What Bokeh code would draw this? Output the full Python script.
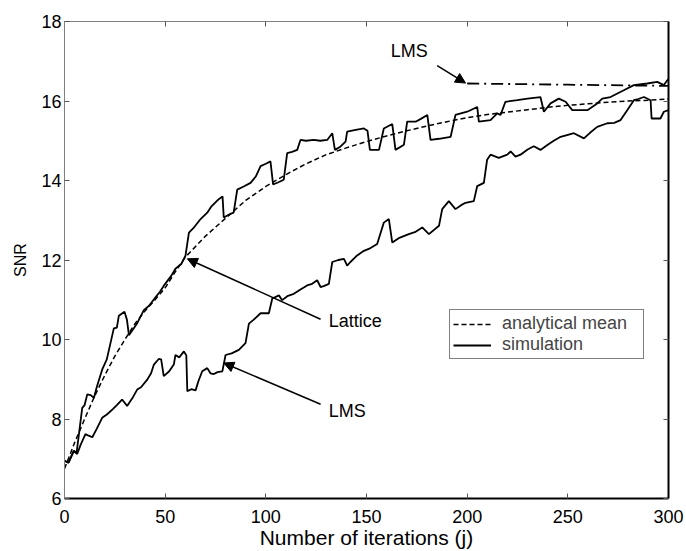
from bokeh.plotting import figure
from bokeh.models import (Range1d, FixedTicker, LinearAxis, CustomJSTickFormatter,
                          Legend, LegendItem, Arrow, NormalHead, Label)
from bokeh.embed import file_html
from bokeh.resources import INLINE

# ---------------- data ----------------
x_ticks = [0, 50, 100, 150, 200, 250, 300]
y_ticks = [6, 8, 10, 12, 14, 16, 18]

lattice_mean_x = [0, 5, 10, 15, 20, 25, 30, 35, 40, 45, 50, 55, 60, 70, 80, 90, 100, 110, 120,
                  130, 140, 150, 160, 170, 180, 190, 200, 210, 220, 230, 240, 250, 260, 270,
                  280, 290, 300]
lattice_mean_y = [6.75, 7.4, 8.0, 8.58, 9.1, 9.58, 10.0, 10.4, 10.72, 11.0, 11.3, 11.7, 12.07,
                  12.6, 13.05, 13.5, 13.85, 14.15, 14.42, 14.65, 14.82, 14.98, 15.12, 15.25,
                  15.37, 15.48, 15.58, 15.66, 15.72, 15.78, 15.84, 15.89, 15.93, 15.97, 16.0,
                  16.02, 16.05]

lms_mean_x = [200, 250, 300]
lms_mean_y = [16.44, 16.41, 16.38]

lattice_sim_x = [0, 2, 4.6, 6, 8.8, 10, 11.3, 13, 14.6, 16, 18.7, 21, 24.5, 26, 27, 29.8, 31, 32,
                 34, 36, 39.4, 42, 45, 47.4, 50, 53, 55.1, 58, 60.1, 61.8, 64, 67.6, 70.9, 73,
                 76.6, 78.5, 79.1, 82, 84, 85.8, 89, 92.4, 95, 97.4, 100, 102.3, 103.6, 106,
                 108.9, 110.6, 113, 115.6, 117.2, 120, 123.8, 127, 130.5, 133, 134.3, 137,
                 139.6, 140.4, 144, 148.7, 150.5, 151.7, 156.2, 158.6, 162.8, 164.4, 168.6,
                 170.2, 174.4, 177, 180.2, 181.8, 186, 191.8, 194.2, 200, 205, 205.8, 211.6,
                 214.9, 216.6, 219, 224.9, 230, 236.4, 238.1, 241.4, 245.5, 248.9, 252.2,
                 259.7, 264.6, 267.1, 271.2, 277.8, 282.8, 289.4, 294.4, 297.7, 299.4, 300]
lattice_sim_y = [6.95, 6.9, 7.2, 7.15, 8.28, 8.35, 8.62, 8.6, 8.53, 8.8, 9.24, 9.5, 10.28, 10.3,
                 10.6, 10.7, 10.5, 10.11, 10.25, 10.4, 10.74, 10.85, 11.05, 11.2, 11.4, 11.6,
                 11.78, 11.9, 12.11, 12.69, 12.8, 13.03, 13.19, 13.35, 13.53, 13.6, 13.07,
                 13.15, 13.19, 13.77, 13.85, 13.94, 14.1, 14.36, 14.42, 14.48, 13.9, 13.95,
                 14.02, 14.69, 14.72, 14.77, 15.02, 15.0, 15.02, 15.0, 15.02, 15.19, 14.77,
                 14.85, 14.98, 15.23, 15.27, 15.31, 15.25, 14.77, 14.77, 15.31, 15.42, 14.77,
                 14.9, 15.48, 15.48, 15.55, 15.65, 15.02, 15.05, 15.1, 15.65, 15.73, 15.85,
                 15.48, 15.52, 15.69, 15.65, 15.98, 16.02, 16.06, 16.1, 15.73, 15.94, 16.06,
                 15.98, 15.77, 15.77, 15.94, 16.06, 16.1, 16.27, 16.4, 16.44, 16.48, 16.4,
                 16.52, 16.55]

lms_sim_x = [0, 2, 4.6, 6.3, 8, 10.4, 12, 13.8, 16, 18.7, 21.2, 24, 26, 28.6, 31.1, 34, 36.1, 38,
             41.1, 43, 44.4, 46.8, 48, 49.3, 52, 54.3, 55.1, 57, 59.3, 60.5, 61, 63, 65.1, 66.5,
             68.4, 70.9, 72.5, 74.2, 76, 78.4, 80, 83, 86.6, 89.9, 91.6, 94, 97.4, 101.5, 103.2,
             106.5, 108.1, 111, 113.9, 117, 120.5, 123, 125.5, 127.2, 129, 131.3, 133, 136,
             138.8, 140.4, 142, 145, 148.7, 152, 155.3, 158.6, 161.1, 162.8, 166, 171, 174,
             177.7, 181, 186, 187.6, 190.9, 194.2, 197, 199.2, 203.3, 205, 208.3, 209.9, 211.6,
             215.7, 219.9, 221.6, 224, 226.5, 230, 233.1, 236.4, 240, 243, 246.4, 250, 253, 258,
             261, 264.6, 269.6, 273, 276.2, 279.5, 282.8, 285, 287.8, 291.1, 291.6, 296, 297.7,
             300]
lms_sim_y = [6.95, 6.9, 7.2, 7.12, 7.35, 7.62, 7.58, 7.54, 7.75, 8.03, 8.12, 8.25, 8.35, 8.49,
             8.33, 8.55, 8.74, 8.8, 8.99, 9.15, 9.37, 9.51, 9.5, 9.08, 9.2, 9.37, 9.61, 9.55,
             9.7, 9.6, 8.7, 8.75, 8.72, 8.95, 9.2, 9.28, 9.15, 9.13, 9.18, 9.2, 9.61, 9.65, 9.74,
             9.91, 10.4, 10.5, 10.66, 10.66, 11.03, 11.11, 10.99, 11.1, 11.15, 11.25, 11.36,
             11.4, 11.49, 11.32, 11.35, 11.4, 11.95, 12.0, 12.03, 11.86, 11.95, 12.1, 12.23,
             12.3, 12.4, 12.94, 13.03, 12.44, 12.55, 12.65, 12.7, 12.82, 12.65, 12.86, 13.28,
             13.48, 13.28, 13.38, 13.44, 13.48, 13.86, 13.94, 14.52, 14.65, 14.57, 14.65,
             14.73, 14.6, 14.65, 14.78, 14.86, 14.77, 14.9, 15.0, 15.1, 15.15, 15.19, 15.06,
             15.2, 15.35, 15.44, 15.45, 15.52, 15.77, 16.02, 16.05, 16.1, 16.02, 15.56, 15.56,
             15.73, 15.77]

# annotation anchors (data units)
ann_lms_top = dict(text="LMS", x=162, y=17.27, ax0=185.1, ay0=16.89, ax1=199.2, ay1=16.45)
ann_lattice = dict(text="Lattice", x=131.3, y=10.46, ax0=127.2, ay0=10.51, ax1=61.0, ay1=12.03)
ann_lms_low = dict(text="LMS", x=131.3, y=8.21, ax0=127.2, ay0=8.37, ax1=79.1, ay1=9.41)

FONT = "Liberation Sans"
FS = "18px"

p = figure(width=686, height=551, x_range=Range1d(0, 300), y_range=Range1d(6, 18),
           output_backend="svg", toolbar_location=None,
           min_border_left=64, min_border_right=18, min_border_top=21, min_border_bottom=49,
           x_axis_label="Number of iterations (j)", y_axis_label="SNR")
p.background_fill_color = "white"
p.border_fill_color = "white"
p.outline_line_color = None
p.grid.visible = False

p.xaxis.ticker = FixedTicker(ticks=x_ticks)
p.yaxis.ticker = FixedTicker(ticks=y_ticks)
for ax in (p.xaxis[0], p.yaxis[0]):
    ax.major_tick_in = 5
    ax.major_tick_out = 0
    ax.minor_tick_line_color = None
    ax.major_label_text_font = FONT
    ax.major_label_text_font_size = FS
    ax.major_label_text_color = "black"
    ax.axis_label_text_font = FONT
    ax.axis_label_text_font_style = "normal"
    ax.axis_label_text_color = "black"
    ax.major_tick_line_color = "#555555"
p.xaxis.axis_label_text_font_size = "21px"
p.yaxis.axis_label_text_font_size = "16px"
p.xaxis.axis_line_color = "black"
p.xaxis.axis_line_width = 2
p.yaxis.axis_line_color = "#808080"
p.yaxis.axis_line_width = 1
p.xaxis.major_label_standoff = 11
p.yaxis.major_label_standoff = 3
p.xaxis.axis_label_standoff = 0
p.yaxis.axis_label_standoff = 9

blank = CustomJSTickFormatter(code="return ''")
top_ax = LinearAxis(ticker=FixedTicker(ticks=x_ticks), formatter=blank,
                    major_tick_in=5, major_tick_out=0, minor_tick_line_color=None,
                    axis_line_color="#808080", major_tick_line_color="#555555",
                    major_label_standoff=0)
right_ax = LinearAxis(ticker=FixedTicker(ticks=y_ticks), formatter=blank,
                      major_tick_in=5, major_tick_out=0, minor_tick_line_color=None,
                      axis_line_color="black", axis_line_width=2,
                      major_tick_line_color="#555555", major_label_standoff=0)
p.add_layout(top_ax, "above")
p.add_layout(right_ax, "right")

r_mean = p.line(lattice_mean_x, lattice_mean_y, line_color="black", line_width=1.5,
                line_dash="5 3")
p.line(lms_mean_x, lms_mean_y, line_color="black", line_width=1.8, line_dash="12 5 2 5")
r_sim = p.line(lattice_sim_x, lattice_sim_y, line_color="black", line_width=1.8)
p.line(lms_sim_x, lms_sim_y, line_color="black", line_width=1.8)

for a in (ann_lms_top, ann_lattice, ann_lms_low):
    p.add_layout(Label(x=a["x"], y=a["y"], text=a["text"], text_font=FONT,
                       text_font_size=FS, text_baseline="middle", text_align="left",
                       text_color="black"))
    p.add_layout(Arrow(x_start=a["ax0"], y_start=a["ay0"], x_end=a["ax1"], y_end=a["ay1"],
                       line_width=1.5, line_color="black",
                       end=NormalHead(size=10, fill_color="black", line_color="black")))

legend = Legend(items=[LegendItem(label="analytical mean", renderers=[r_mean]),
                       LegendItem(label="simulation", renderers=[r_sim])],
                location=(385, 139), padding=3, spacing=0, margin=0,
                glyph_width=38, glyph_height=18, label_height=18, label_width=138,
                label_standoff=11, label_text_font=FONT, label_text_font_size=FS,
                border_line_color="black", border_line_width=1.5,
                background_fill_color="white", background_fill_alpha=1.0)
p.add_layout(legend, "center")

open("out.html", "w").write(file_html(p, INLINE))
